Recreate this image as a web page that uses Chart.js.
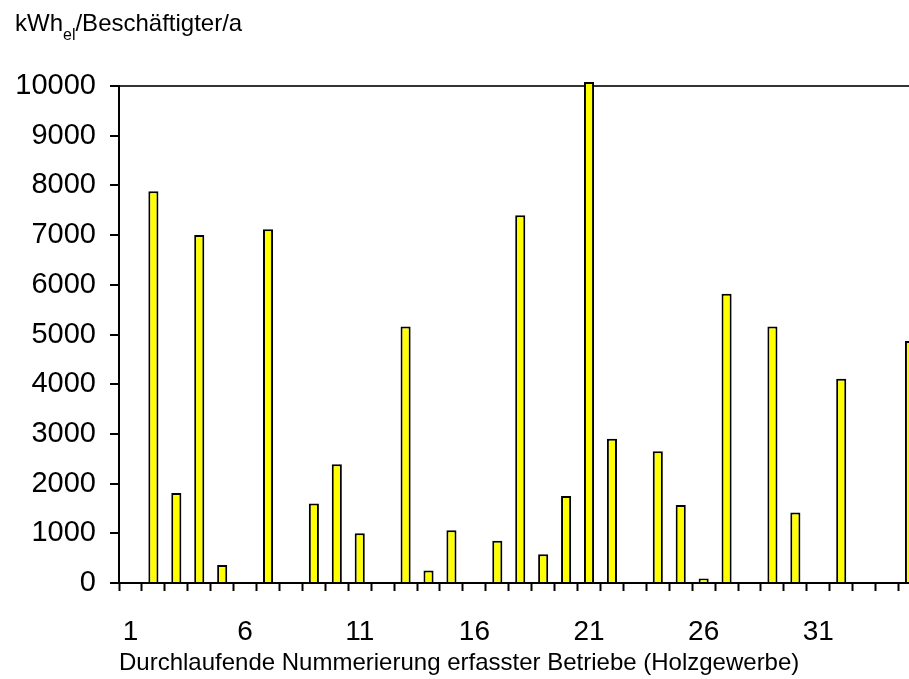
<!DOCTYPE html>
<html>
<head>
<meta charset="utf-8">
<title>Stromverbrauch je Beschäftigtem</title>
<script src="https://cdn.jsdelivr.net/npm/chart.js@4.4.1/dist/chart.umd.min.js"></script>
<style>
  html, body { margin: 0; padding: 0; background: #fff; overflow: hidden; }
  #wrap { position: relative; width: 909px; height: 679px; overflow: hidden; }
  #chart { position: absolute; left: 0; top: 0; }
  #unit {
    position: absolute; left: 15px; top: 11px;
    font-family: 'Liberation Sans', Arial, sans-serif; font-size: 24px; line-height: 24px;
    color: #000; white-space: nowrap;
  }
  #unit sub { font-size: 16px; vertical-align: -9px; line-height: 0; }
</style>
</head>
<body>
<div id="wrap">
  <canvas id="chart" width="934" height="679"></canvas>
  <div id="unit">kWh<sub>el</sub>/Beschäftigter/a</div>
</div>
<script>
// Betriebe (laufende Nummer)
const betriebe = [1, 2, 3, 4, 5, 6, 7, 8, 9, 10, 11, 12, 13, 14, 15, 16, 17, 18,
                  19, 20, 21, 22, 23, 24, 25, 26, 27, 28, 29, 30, 31, 32, 33, 34, 35];

// kWh_el je Beschäftigtem und Jahr (null = keine Angabe)
const verbrauch = [null, 7880, 1810, 7000, 360, null, 7120, null, 1600, 2390, 1000, null,
                   5160, 250, 1060, null, 850, 7400, 580, 1750, 10080, 2900, null, 2650,
                   1570, 90, 5820, null, 5160, 1420, null, 4110, null, null, 4870];

// beschriftete Nummern auf der x-Achse
const xBeschriftung = ['1', '6', '11', '16', '21', '26', '31'];

// y-Achse
const yMin = 0;
const yMax = 10000;
const yStep = 1000;

const fontFamily = "'Liberation Sans', Arial, sans-serif";

const chart = new Chart(document.getElementById('chart'), {
  type: 'bar',
  data: {
    labels: betriebe.map(String),
    datasets: [{
      data: verbrauch,
      backgroundColor: '#ffff00',
      borderColor: '#000000',
      borderWidth: 2,
      barPercentage: 0.44,
      categoryPercentage: 1,
      // Betrieb 21 ragt etwas über den Achsenrahmen hinaus
      clip: false
    }]
  },
  options: {
    responsive: false,
    animation: false,
    layout: { padding: { top: 86, left: 0, right: 0, bottom: 0 } },
    plugins: {
      legend: { display: false },
      tooltip: { enabled: false }
    },
    scales: {
      x: {
        afterFit: (scale) => { scale.height = 96; },
        grid: {
          display: true,
          offset: true,
          drawOnChartArea: false,
          drawTicks: true,
          tickLength: 8,
          tickColor: '#000',
          tickWidth: 2
        },
        border: { display: true, color: '#000', width: 2 },
        ticks: {
          autoSkip: false,
          maxRotation: 0,
          padding: 24,
          color: '#000',
          font: { family: fontFamily, size: 28 },
          callback: function (value) {
            const label = this.getLabelForValue(value);
            return xBeschriftung.includes(label) ? label : '';
          }
        },
        title: {
          display: true,
          text: 'Durchlaufende Nummerierung erfasster Betriebe (Holzgewerbe)',
          align: 'start',
          color: '#000',
          font: { family: fontFamily, size: 24 },
          padding: { top: 0, bottom: 1 }
        }
      },
      y: {
        min: yMin,
        max: yMax,
        afterFit: (scale) => { scale.width = 119; },
        grid: {
          drawOnChartArea: true,
          drawTicks: true,
          tickLength: 9,
          tickColor: '#000',
          tickWidth: 2,
          lineWidth: 2,
          // nur die obere Begrenzungslinie
          color: (ctx) => (ctx.tick && ctx.tick.value === yMax) ? '#333' : 'rgba(0,0,0,0)'
        },
        border: { display: true, color: '#000', width: 2 },
        ticks: {
          stepSize: yStep,
          padding: 14,
          color: '#000',
          font: { family: fontFamily, size: 29 },
          callback: (value) => String(value)
        }
      }
    }
  }
});
</script>
</body>
</html>
